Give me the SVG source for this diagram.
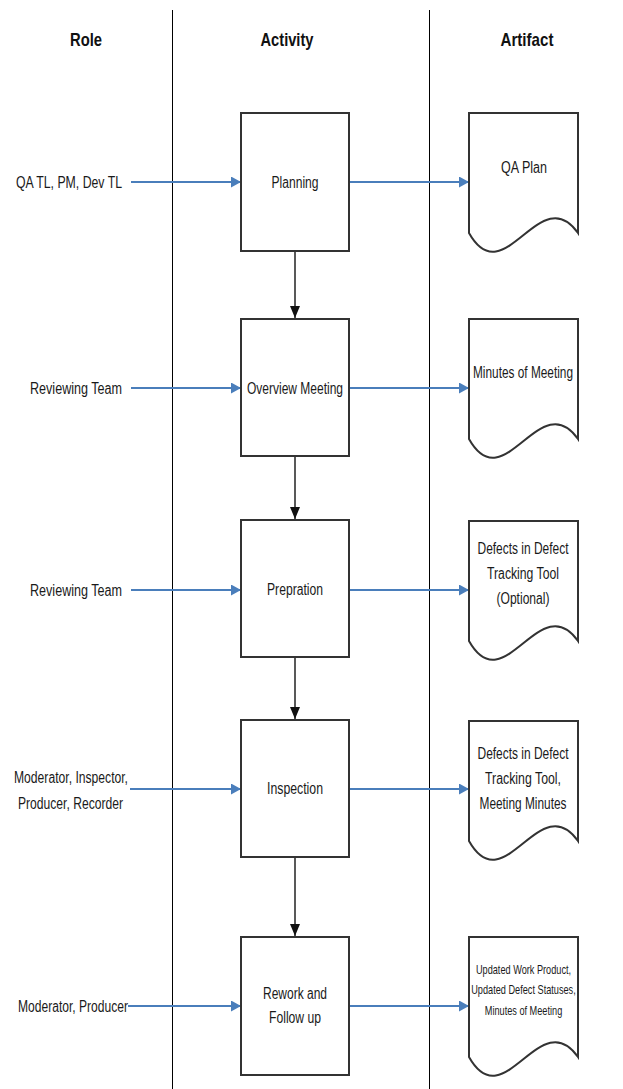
<svg xmlns="http://www.w3.org/2000/svg" width="623" height="1089" viewBox="0 0 623 1089">
<style>
text { font-family: "Liberation Sans", Arial, sans-serif; fill: #1a1a1a; }
.h { font-size: 19px; font-weight: bold; text-anchor: middle; fill: #111; }
.t { font-size: 16px; text-anchor: middle; }
.s { font-size: 13.5px; text-anchor: middle; }
.box { fill: #fff; stroke: #333; stroke-width: 2; }
.lane { stroke: #000; stroke-width: 1; }
.flow { stroke: #4a7ebb; stroke-width: 2; fill: none; marker-end: url(#ab); }
.seq { stroke: #222; stroke-width: 1.5; fill: none; marker-end: url(#ak); }
</style>
<defs>
  <marker id="ab" markerUnits="userSpaceOnUse" markerWidth="10" markerHeight="11" refX="10" refY="5.5" orient="auto">
    <path d="M0,0 L10,5.5 L0,11 z" fill="#4a7ebb"/>
  </marker>
  <marker id="ak" markerUnits="userSpaceOnUse" markerWidth="12" markerHeight="10" refX="12" refY="5" orient="auto">
    <path d="M0,0 L12,5 L0,10 z" fill="#111"/>
  </marker>
  <path id="doc" d="M0,0 H109 V120 C71,66 35,182 0,120 Z" fill="#fff" stroke="#333" stroke-width="2"/>
</defs>

<g id="lanes">
  <line class="lane" x1="172.5" y1="10" x2="172.5" y2="1089"/>
  <line class="lane" x1="429.5" y1="10" x2="429.5" y2="1089"/>
</g>

<g id="headers">
  <text class="h" x="86" y="46" textLength="32" lengthAdjust="spacingAndGlyphs">Role</text>
  <text class="h" x="287" y="46" textLength="53" lengthAdjust="spacingAndGlyphs">Activity</text>
  <text class="h" x="527" y="46" textLength="53" lengthAdjust="spacingAndGlyphs">Artifact</text>
</g>

<g id="connectors">
  <line class="flow" x1="131" y1="182" x2="241" y2="182"/>
  <line class="flow" x1="349" y1="182" x2="469" y2="182"/>
  <line class="flow" x1="131" y1="388" x2="241" y2="388"/>
  <line class="flow" x1="349" y1="388" x2="469" y2="388"/>
  <line class="flow" x1="131" y1="590" x2="241" y2="590"/>
  <line class="flow" x1="349" y1="590" x2="469" y2="590"/>
  <line class="flow" x1="130" y1="789" x2="241" y2="789"/>
  <line class="flow" x1="349" y1="789" x2="469" y2="789"/>
  <line class="flow" x1="128" y1="1006" x2="241" y2="1006"/>
  <line class="flow" x1="349" y1="1006" x2="469" y2="1006"/>
  <line class="seq" x1="295" y1="251" x2="295" y2="318"/>
  <line class="seq" x1="295" y1="456" x2="295" y2="519"/>
  <line class="seq" x1="295" y1="657" x2="295" y2="719"/>
  <line class="seq" x1="295" y1="857" x2="295" y2="936"/>
</g>

<g id="role-planning">
  <text class="t" x="69" y="187.5" textLength="106" lengthAdjust="spacingAndGlyphs">QA TL, PM, Dev TL</text>
</g>
<g id="role-overview">
  <text class="t" x="76" y="393.5" textLength="92" lengthAdjust="spacingAndGlyphs">Reviewing Team</text>
</g>
<g id="role-preparation">
  <text class="t" x="76" y="595.5" textLength="92" lengthAdjust="spacingAndGlyphs">Reviewing Team</text>
</g>
<g id="role-inspection">
  <text class="t" x="71" y="782.5" textLength="114" lengthAdjust="spacingAndGlyphs">Moderator, Inspector,</text>
  <text class="t" x="70.5" y="808.5" textLength="105" lengthAdjust="spacingAndGlyphs">Producer, Recorder</text>
</g>
<g id="role-rework">
  <text class="t" x="73" y="1011.5" textLength="110" lengthAdjust="spacingAndGlyphs">Moderator, Producer</text>
</g>

<g id="act-planning">
  <rect class="box" x="241" y="113" width="108" height="138"/>
  <text class="t" x="295" y="187.5" textLength="47" lengthAdjust="spacingAndGlyphs">Planning</text>
</g>
<g id="act-overview">
  <rect class="box" x="241" y="319" width="108" height="137"/>
  <text class="t" x="295" y="393.5" textLength="96" lengthAdjust="spacingAndGlyphs">Overview Meeting</text>
</g>
<g id="act-preparation">
  <rect class="box" x="241" y="520" width="108" height="137"/>
  <text class="t" x="295" y="594.5" textLength="56" lengthAdjust="spacingAndGlyphs">Prepration</text>
</g>
<g id="act-inspection">
  <rect class="box" x="241" y="720" width="108" height="137"/>
  <text class="t" x="295" y="793.5" textLength="56" lengthAdjust="spacingAndGlyphs">Inspection</text>
</g>
<g id="act-rework">
  <rect class="box" x="241" y="937" width="108" height="138"/>
  <text class="t" x="295" y="998.5" textLength="64" lengthAdjust="spacingAndGlyphs">Rework and</text>
  <text class="t" x="295" y="1022.5" textLength="52" lengthAdjust="spacingAndGlyphs">Follow up</text>
</g>

<g id="art-qaplan">
  <use href="#doc" x="469" y="113"/>
  <text class="t" x="524" y="172.5" textLength="46" lengthAdjust="spacingAndGlyphs">QA Plan</text>
</g>
<g id="art-minutes">
  <use href="#doc" x="469" y="319"/>
  <text class="t" x="523" y="377.5" textLength="100" lengthAdjust="spacingAndGlyphs">Minutes of Meeting</text>
</g>
<g id="art-defects">
  <use href="#doc" x="469" y="521"/>
  <text class="t" x="523" y="553.5" textLength="91" lengthAdjust="spacingAndGlyphs">Defects in Defect</text>
  <text class="t" x="523" y="578.5" textLength="72" lengthAdjust="spacingAndGlyphs">Tracking Tool</text>
  <text class="t" x="523" y="603.5" textLength="53" lengthAdjust="spacingAndGlyphs">(Optional)</text>
</g>
<g id="art-defects-minutes">
  <use href="#doc" x="469" y="721"/>
  <text class="t" x="523" y="758.5" textLength="91" lengthAdjust="spacingAndGlyphs">Defects in Defect</text>
  <text class="t" x="523" y="783.5" textLength="76" lengthAdjust="spacingAndGlyphs">Tracking Tool,</text>
  <text class="t" x="523" y="808.5" textLength="87" lengthAdjust="spacingAndGlyphs">Meeting Minutes</text>
</g>
<g id="art-updated">
  <use href="#doc" x="469" y="937"/>
  <g transform="translate(523.5 0) scale(0.68 1)">
    <text class="s" x="0" y="974">Updated Work Product,</text>
    <text class="s" x="0" y="994.5">Updated Defect Statuses,</text>
    <text class="s" x="0" y="1015">Minutes of Meeting</text>
  </g>
</g>
</svg>
